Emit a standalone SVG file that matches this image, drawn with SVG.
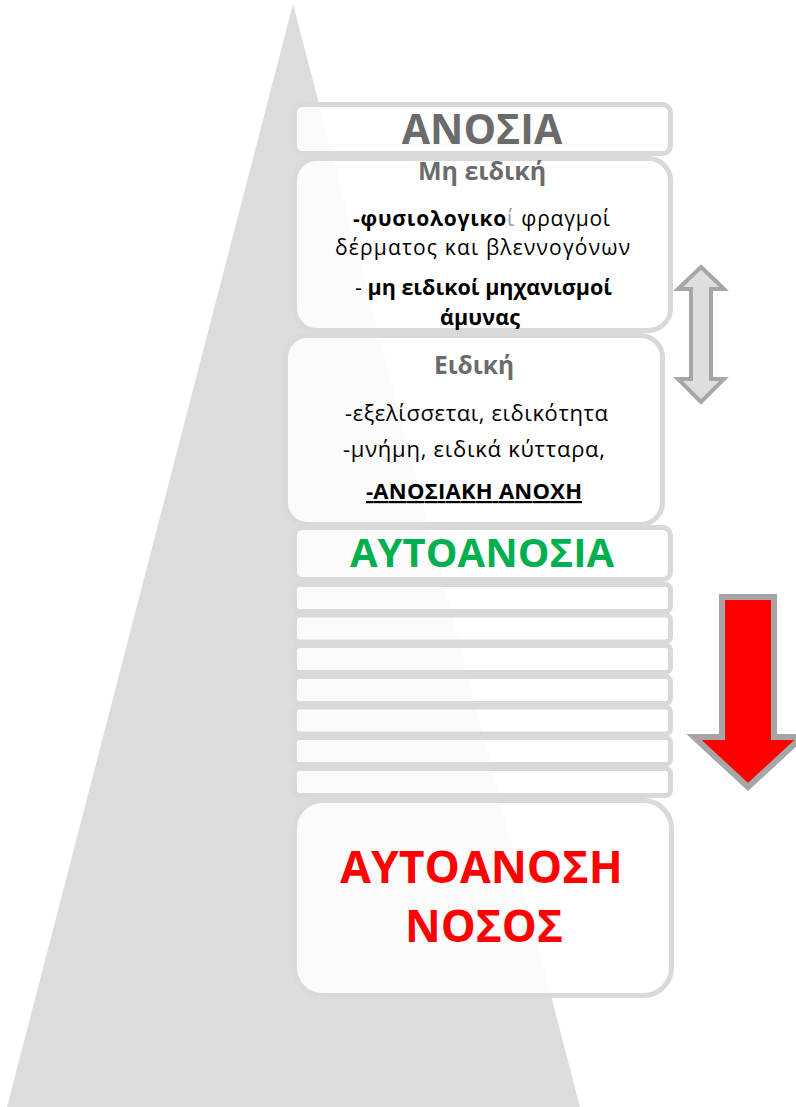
<svg xmlns="http://www.w3.org/2000/svg" width="796" height="1107" viewBox="0 0 796 1107">
<style>
.box{fill:#ffffff;fill-opacity:0.88;stroke:#d9d9d9;stroke-width:5}
.t{font-family:"Open Sans","Noto Sans","DejaVu Sans",sans-serif;text-anchor:middle}
.b{font-weight:bold}
.gray{fill:#6b6b6b}
.blk{fill:#000000}
</style>
<rect width="796" height="1107" fill="#ffffff"/>
<polygon id="pyramid" points="293,4 7,1107 580,1107" fill="#dcdcdc"/>
<g id="box-anosia">
<rect class="box" x="294.5" y="104.5" width="376" height="49" rx="8"/>
<text class="t b gray" x="482" y="144" font-size="41">ΑΝΟΣΙΑ</text>
</g>
<g id="box-mi-eidiki">
<rect class="box" x="294.5" y="158.5" width="376" height="172" rx="22"/>
<text class="t b gray" x="482" y="180" font-size="25">Μη ειδική</text>
<text class="t blk" x="481.5" y="226" font-size="21" textLength="257"><tspan font-weight="bold">-φυσιολογικο</tspan><tspan fill="#9a9a9a">ί</tspan> φραγμοί</text>
<text class="t blk" x="482.5" y="255" font-size="21" textLength="295">δέρματος και βλεννογόνων</text>
<text class="t b blk" x="483.5" y="295" font-size="21.5" textLength="257"><tspan font-weight="normal">- </tspan>μη ειδικοί μηχανισμοί</text>
<text class="t b blk" x="480" y="325" font-size="21.5" textLength="80">άμυνας</text>
</g>
<g id="box-eidiki">
<rect class="box" x="285.5" y="335.5" width="377" height="189" rx="22"/>
<text class="t b gray" x="474" y="374" font-size="24.5">Ειδική</text>
<text class="t blk" x="476.5" y="421" font-size="22" textLength="263">-εξελίσσεται, ειδικότητα</text>
<text class="t blk" x="474" y="457" font-size="22" textLength="262">-μνήμη, ειδικά κύτταρα,</text>
<text class="t b blk" x="474" y="499" font-size="22" textLength="216" text-decoration="underline">-ΑΝΟΣΙΑΚΗ ΑΝΟΧΗ</text>
</g>
<g id="box-autoanosia">
<rect class="box" x="294.5" y="527.5" width="376" height="52" rx="8"/>
<text class="t b" x="482" y="567" font-size="40" fill="#00b050">ΑΥΤΟΑΝΟΣΙΑ</text>
</g>
<g id="steps">
<rect class="box" x="294.5" y="584.5" width="376" height="27" rx="5"/>
<rect class="box" x="294.5" y="615" width="376" height="27" rx="5"/>
<rect class="box" x="294.5" y="645.5" width="376" height="27" rx="5"/>
<rect class="box" x="294.5" y="676.5" width="376" height="27" rx="5"/>
<rect class="box" x="294.5" y="707" width="376" height="27" rx="5"/>
<rect class="box" x="294.5" y="737.5" width="376" height="27" rx="5"/>
<rect class="box" x="294.5" y="768.5" width="376" height="27" rx="5"/>
</g>
<g id="box-disease">
<rect class="box" x="294.5" y="800.5" width="377" height="195" rx="28"/>
<text class="t b" x="481.5" y="883" font-size="44.5" fill="#ff0000">ΑΥΤΟΑΝΟΣΗ</text>
<text class="t b" x="484" y="942" font-size="44" fill="#ff0000">ΝΟΣΟΣ</text>
</g>
<g id="connectors">
<polygon id="double-arrow" points="701,267 724,289 711,289 711,379 724,379 701,402 678,379 691,379 691,289 678,289" fill="#dedede" stroke="#a6a6a6" stroke-width="4"/>
<polygon id="red-arrow" points="722,597 774,597 774,737 802,737 748,787 694,737 722,737" fill="#ff0000" stroke="#a6a6a6" stroke-width="6"/>
</g>
</svg>
